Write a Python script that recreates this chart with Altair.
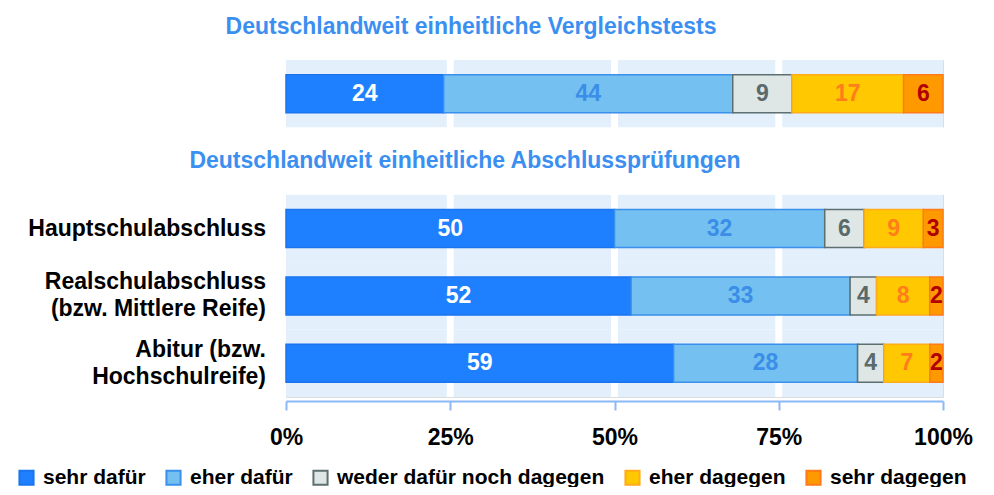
import altair as alt
import pandas as pd

# ---- data ----
row_labels = [
    "Vergleichstests",
    "Hauptschulabschluss",
    "Realschulabschluss|(bzw. Mittlere Reife)",
    "Abitur (bzw.|Hochschulreife)",
]
gap_row = "_gap"
row_domain = [row_labels[0], gap_row] + row_labels[1:]
shown_labels = row_labels[1:]

categories = ["sehr dafür", "eher dafür", "weder dafür noch dagegen", "eher dagegen", "sehr dagegen"]
sehr_dafuer = [24, 50, 52, 59]
eher_dafuer = [44, 32, 33, 28]
weder = [9, 6, 4, 4]
eher_dagegen = [17, 9, 8, 7]
sehr_dagegen = [6, 3, 2, 2]
series = [sehr_dafuer, eher_dafuer, weder, eher_dagegen, sehr_dagegen]

tick_values = [0, 0.25, 0.5, 0.75, 1]
grid_values = [0.25, 0.5, 0.75]

title_top = "Deutschlandweit einheitliche Vergleichstests"
title_mid = "Deutschlandweit einheitliche Abschlussprüfungen"

fill_colors = ["#1f80ff", "#74c0f0", "#dfe6e6", "#ffc800", "#ff9900"]
stroke_colors = ["#1a74f0", "#3a90ea", "#5e6f70", "#ffab1a", "#ff7a1a"]
text_colors = ["#ffffff", "#3a8ee8", "#5a6a6a", "#ff7d1a", "#b00000"]
band_color = "#e3effb"
title_color = "#3b8ff0"
FONT = "Liberation Sans"
LINE_H = 27

records = []
for ci, (cat, vals) in enumerate(zip(categories, series)):
    for row, v in zip(row_labels, vals):
        records.append({"row": row, "cat": cat, "order": ci, "value": v})
df = pd.DataFrame(records)

bands_df = pd.DataFrame({"row": row_labels})
gap_df = pd.DataFrame({"row": [gap_row]})
grid_df = pd.DataFrame({"g": grid_values})
mid_df = pd.DataFrame({"row": [gap_row], "t": [title_mid]})
top_df = pd.DataFrame({"t": [title_top]})
lab_df = pd.DataFrame({"row": shown_labels})

W, H = 657, 337

y_scale = alt.Scale(domain=row_domain, paddingInner=0, paddingOuter=0)
y_enc = alt.Y("row:N", scale=y_scale, axis=None)

x_scale = alt.Scale(domain=[0, 1], nice=False, zero=True)
x_axis = alt.Axis(
    title=None,
    values=tick_values,
    format="%",
    grid=False,
    labelFontSize=23,
    labelFontWeight="bold",
    labelColor="black",
    labelPadding=16,
    labelFlush=False,
    domainColor="#8cb8f5",
    domainWidth=2,
    tickColor="#8cb8f5",
    tickWidth=2,
    tickSize=9,
    offset=4,
)

bands = alt.Chart(bands_df).mark_rect(color=band_color).encode(
    y=y_enc,
    x=alt.datum(0, scale=x_scale, axis=x_axis),
    x2=alt.datum(1),
)

grid = alt.Chart(grid_df).mark_rule(color="white", strokeWidth=7).encode(
    x=alt.X("g:Q", scale=x_scale)
)

# plain white strip behind the section subtitle
gap_strip = alt.Chart(gap_df).mark_rect(color="white").encode(
    y=alt.Y("row:N", scale=y_scale, axis=None),
    x=alt.value(-3),
    x2=alt.value(W + 3),
)

base = alt.Chart(df).transform_joinaggregate(
    total="sum(value)", groupby=["row"]
).transform_window(
    cum="sum(value)", sort=[alt.SortField("order")], groupby=["row"], frame=[None, 0]
).transform_calculate(
    x_end="datum.cum / datum.total",
    x_start="(datum.cum - datum.value) / datum.total",
).transform_calculate(
    x_mid="(datum.x_start + datum.x_end) / 2"
)

legend = alt.Legend(
    title=None,
    orient="none",
    legendX=-270,
    legendY=407,
    direction="horizontal",
    columns=5,
    symbolType="square",
    symbolSize=200,
    symbolStrokeWidth=2,
    labelFontSize=21,
    labelFontWeight="bold",
    labelFont=FONT,
    labelColor="black",
    labelOffset=6,
    columnPadding=16,
    labelLimit=0,
)

bars = base.mark_bar(size=38, strokeWidth=1.5).encode(
    y=alt.Y("row:N", scale=y_scale, axis=None),
    x=alt.X("x_start:Q", scale=x_scale),
    x2="x_end:Q",
    fill=alt.Fill("cat:N", scale=alt.Scale(domain=categories, range=fill_colors), legend=legend),
    stroke=alt.Stroke("cat:N", scale=alt.Scale(domain=categories, range=stroke_colors), legend=legend),
)

labels = base.mark_text(fontSize=23, fontWeight="bold", font=FONT).encode(
    y=alt.Y("row:N", scale=y_scale, axis=None),
    x=alt.X("x_mid:Q", scale=x_scale),
    text=alt.Text("value:Q"),
    color=alt.Color("cat:N", scale=alt.Scale(domain=categories, range=text_colors), legend=None),
)

# row labels: single-line and two-line ones, each block centred on its row
lab_base = alt.Chart(lab_df).transform_calculate(
    nlines="length(split(datum.row, '|'))"
)
label_style = dict(
    fontSize=23, fontWeight="bold", font=FONT, color="black",
    align="right", baseline="middle", lineBreak="|", lineHeight=LINE_H,
)
row_text_1 = lab_base.transform_filter("datum.nlines == 1").mark_text(**label_style).encode(
    y=alt.Y("row:N", scale=y_scale, axis=None),
    x=alt.value(-20),
    text="row:N",
)
row_text_2 = lab_base.transform_filter("datum.nlines == 2").mark_text(
    dy=-LINE_H / 2, **label_style
).encode(
    y=alt.Y("row:N", scale=y_scale, axis=None),
    x=alt.value(-20),
    text="row:N",
)

mid_title = alt.Chart(mid_df).mark_text(
    fontSize=23, fontWeight="bold", font=FONT, color=title_color, align="center", baseline="middle"
).encode(y=alt.Y("row:N", scale=y_scale, axis=None), x=alt.value(179), text="t:N")

top_title = alt.Chart(top_df).mark_text(
    fontSize=23, fontWeight="bold", font=FONT, color=title_color, align="center", baseline="middle"
).encode(y=alt.value(-33), x=alt.value(185), text="t:N")

chart = alt.layer(
    bands, grid, gap_strip, bars, labels, row_text_1, row_text_2, mid_title, top_title
).properties(
    width=W,
    height=H,
    padding={"left": 278, "top": 52, "right": 43, "bottom": 90},
    autosize=alt.AutoSizeParams(type="none"),
).configure_view(stroke="transparent", strokeWidth=0).configure_axis(grid=False).configure(font=FONT)

chart.save("out.html", embed_options={"renderer": "svg", "actions": False})
